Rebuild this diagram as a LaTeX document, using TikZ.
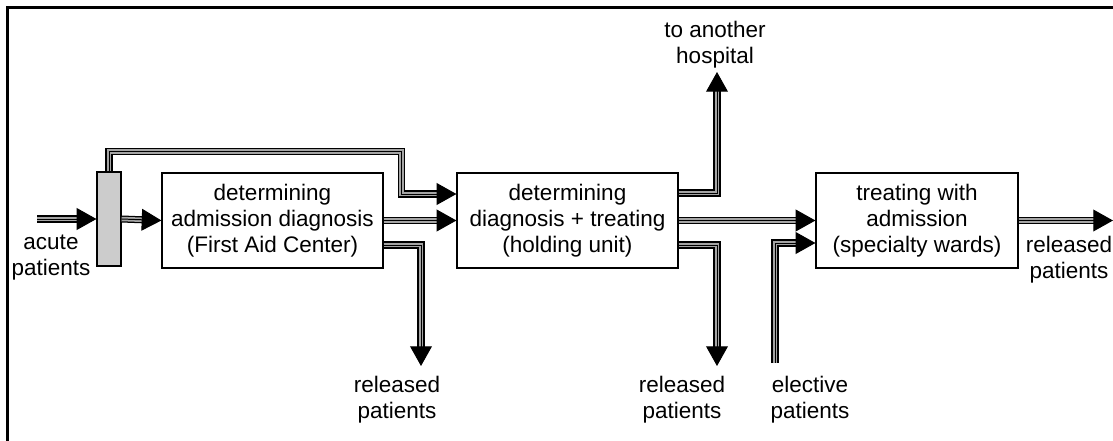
\documentclass[tikz,border=0pt]{standalone}
\usepackage{fontspec}
\setmainfont{Liberation Sans}
\usetikzlibrary{arrows.meta,calc}
\definecolor{flowgray}{RGB}{165,165,165}
\tikzset{
  stage/.style={draw, line width=0.8pt, minimum height=2.375cm, inner sep=0pt, align=center},
  txt/.style={align=center, inner sep=0pt},
  flow/.style={draw=black, line width=5pt, shorten >=10pt,
    postaction={draw=flowgray, line width=3.2pt, shorten >=10pt},
    postaction={draw=black, line width=0.7pt, shorten >=0pt,
      -{Triangle[length=14pt,width=15.5pt]}}}
}
\begin{document}
\begin{tikzpicture}[x=0.025cm, y=-0.025cm, font=\fontsize{16}{18.5}\selectfont]
  \useasboundingbox (0,0) rectangle (1113,441);
  \draw[line width=1.6pt] (7.5,7.5) rectangle (1130,460);
  % stages
  \node[draw, line width=0.8pt, fill=black!20, minimum width=0.6cm,
    minimum height=2.35cm, inner sep=0pt] (gate) at (109,219) {};
  \node[stage, minimum width=5.525cm] (fac) at (272.5,220.5)
    {determining\\admission diagnosis\\(First Aid Center)};
  \node[stage, minimum width=5.525cm] (hold) at (567.5,220.5)
    {determining\\diagnosis + treating\\(holding unit)};
  \node[stage, minimum width=5.05cm] (ward) at (917,220.5)
    {treating with\\admission\\(specialty wards)};
  % in and out
  \node[txt] (acute) at (51,258) {acute\\patients};
  \node[txt] (hosp) at (715,45) {to another\\hospital};
  \node[txt] (rel1) at (397,400) {released\\patients};
  \node[txt] (rel2) at (682,400) {released\\patients};
  \node[txt] (elect) at (810,400) {elective\\patients};
  \node[txt] (rel3) at (1069,260) {released\\patients};
  \coordinate (src) at (37,219);
  \coordinate (out1) at (421,366);
  \coordinate (out2) at (717,366);
  \coordinate (up) at (717,72);
  \coordinate (el) at (775,363);
  \coordinate (sink) at (1113,220.5);
  % flows
  \draw[flow] (src) -- (gate.west);
  \draw[flow] (gate.east) -- (fac.west);
  \draw[flow] (gate.north) -- ++(0,-20) -| ($(hold.west)+(-55,-26.5)$)
    -- ($(hold.west)+(0,-26.5)$);
  \draw[flow] (fac.east) -- (hold.west);
  \draw[flow] ($(fac.east)+(0,24.5)$) -| (out1);
  \draw[flow] ($(hold.east)+(0,-27.5)$) -| (up);
  \draw[flow] (hold.east) -- (ward.west);
  \draw[flow] ($(hold.east)+(0,24.5)$) -| (out2);
  \draw[flow] (el) |- ($(ward.west)+(0,22.5)$);
  \draw[flow] (ward.east) -- (sink);
\end{tikzpicture}
\end{document}
